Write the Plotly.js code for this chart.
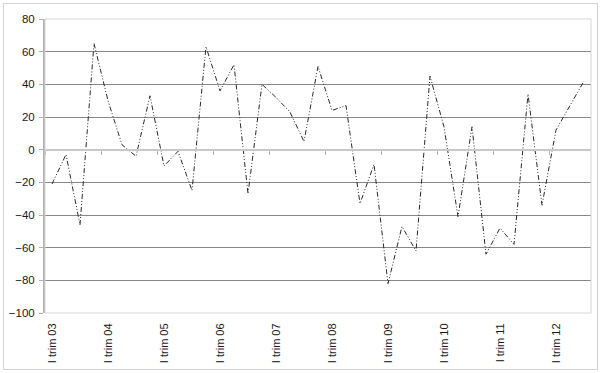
<!DOCTYPE html>
<html>
<head>
<meta charset="utf-8">
<script src="https://cdn.plot.ly/plotly-3.0.1.min.js"></script>
<style>
  html, body { margin: 0; padding: 0; background: #fff; }
  #wrap { position: relative; width: 600px; height: 373px; }
  #chart { width: 600px; height: 373px; }
  #frame { position: absolute; left: 3px; top: 3px; width: 593px; height: 365px; border: 1px solid #d4d4d4; pointer-events: none; }
</style>
</head>
<body>
<div id="wrap">
  <div id="chart"></div>
  <div id="frame"></div>
</div>
<script>
const categories = [
  "I trim 03","II trim 03","III trim 03","IV trim 03",
  "I trim 04","II trim 04","III trim 04","IV trim 04",
  "I trim 05","II trim 05","III trim 05","IV trim 05",
  "I trim 06","II trim 06","III trim 06","IV trim 06",
  "I trim 07","II trim 07","III trim 07","IV trim 07",
  "I trim 08","II trim 08","III trim 08","IV trim 08",
  "I trim 09","II trim 09","III trim 09","IV trim 09",
  "I trim 10","II trim 10","III trim 10","IV trim 10",
  "I trim 11","II trim 11","III trim 11","IV trim 11",
  "I trim 12","II trim 12","III trim 12"
];
const values = [
  -21, -3, -46, 65, 30, 3, -4, 33, -10, -1,
  -25, 63, 36, 52, -27, 40, 32, 23, 5, 51,
  24, 27, -33, -9, -82, -47, -62, 45, 14, -41,
  14, -64, -48, -58, 34, -34, 12, 27, 42
];
const tickLabels = ["I trim 03","I trim 04","I trim 05","I trim 06","I trim 07","I trim 08","I trim 09","I trim 10","I trim 11","I trim 12"];
const yMin = -100, yMax = 80, yStep = 20;

const n = categories.length;
const yearBoundaries = [];
for (let i = 0; i < n; i += 4) yearBoundaries.push(i - 0.5);

const font = { family: "Liberation Sans, Arial, sans-serif", size: 11, color: "#1a1a1a" };

const traces = [
  {
    type: "scatter", mode: "lines",
    x: categories, y: values,
    line: { color: "#2a2a2a", width: 1, dash: "5px,2px,1px,2px,1px,2px" },
    hoverinfo: "skip", showlegend: false
  },
  {
    type: "scatter", mode: "markers",
    x: [0], y: [null], xaxis: "x2",
    marker: { opacity: 0 }, hoverinfo: "skip", showlegend: false
  }
];

const layout = {
  width: 600, height: 373,
  margin: { l: 45, r: 9, t: 19, b: 60, pad: 0 },
  paper_bgcolor: "#ffffff", plot_bgcolor: "#ffffff",
  font: font,
  showlegend: false,
  xaxis: {
    type: "category",
    range: [-0.5, n - 0.5],
    tickmode: "array", tickvals: tickLabels, ticktext: tickLabels,
    tickangle: -90, ticks: "outside", ticklen: 5, tickcolor: "rgba(0,0,0,0)",
    showgrid: false, zeroline: false,
    showline: false, tickfont: font, automargin: false
  },
  xaxis2: {
    overlaying: "x", anchor: "free",
    position: (0 - yMin) / (yMax - yMin),
    range: [-0.5, n - 0.5],
    tickmode: "array", tickvals: yearBoundaries,
    ticks: "outside", ticklen: 4, tickwidth: 1, tickcolor: "#b5b5b5",
    showticklabels: false, showgrid: false, zeroline: false,
    showline: true, linecolor: "#c8c8c8", linewidth: 2
  },
  yaxis: {
    range: [yMin, yMax], dtick: yStep, tick0: 0,
    showgrid: true, gridcolor: "#878787", gridwidth: 1,
    zeroline: false,
    showline: true, linecolor: "#b0b0b0", linewidth: 2,
    ticks: "outside", ticklen: 4, tickcolor: "#b0b0b0",
    tickfont: { family: font.family, size: 11.5, color: "#1a1a1a" },
    automargin: false, ticklabelstandoff: 2
  },
  shapes: [
    { type: "rect", xref: "paper", yref: "paper", x0: 0, x1: 1, y0: 0, y1: 1,
      line: { color: "#d6d6d6", width: 1 }, layer: "above" }
  ]
};

Plotly.newPlot("chart", traces, layout, { staticPlot: true, displayModeBar: false });
</script>
</body>
</html>
